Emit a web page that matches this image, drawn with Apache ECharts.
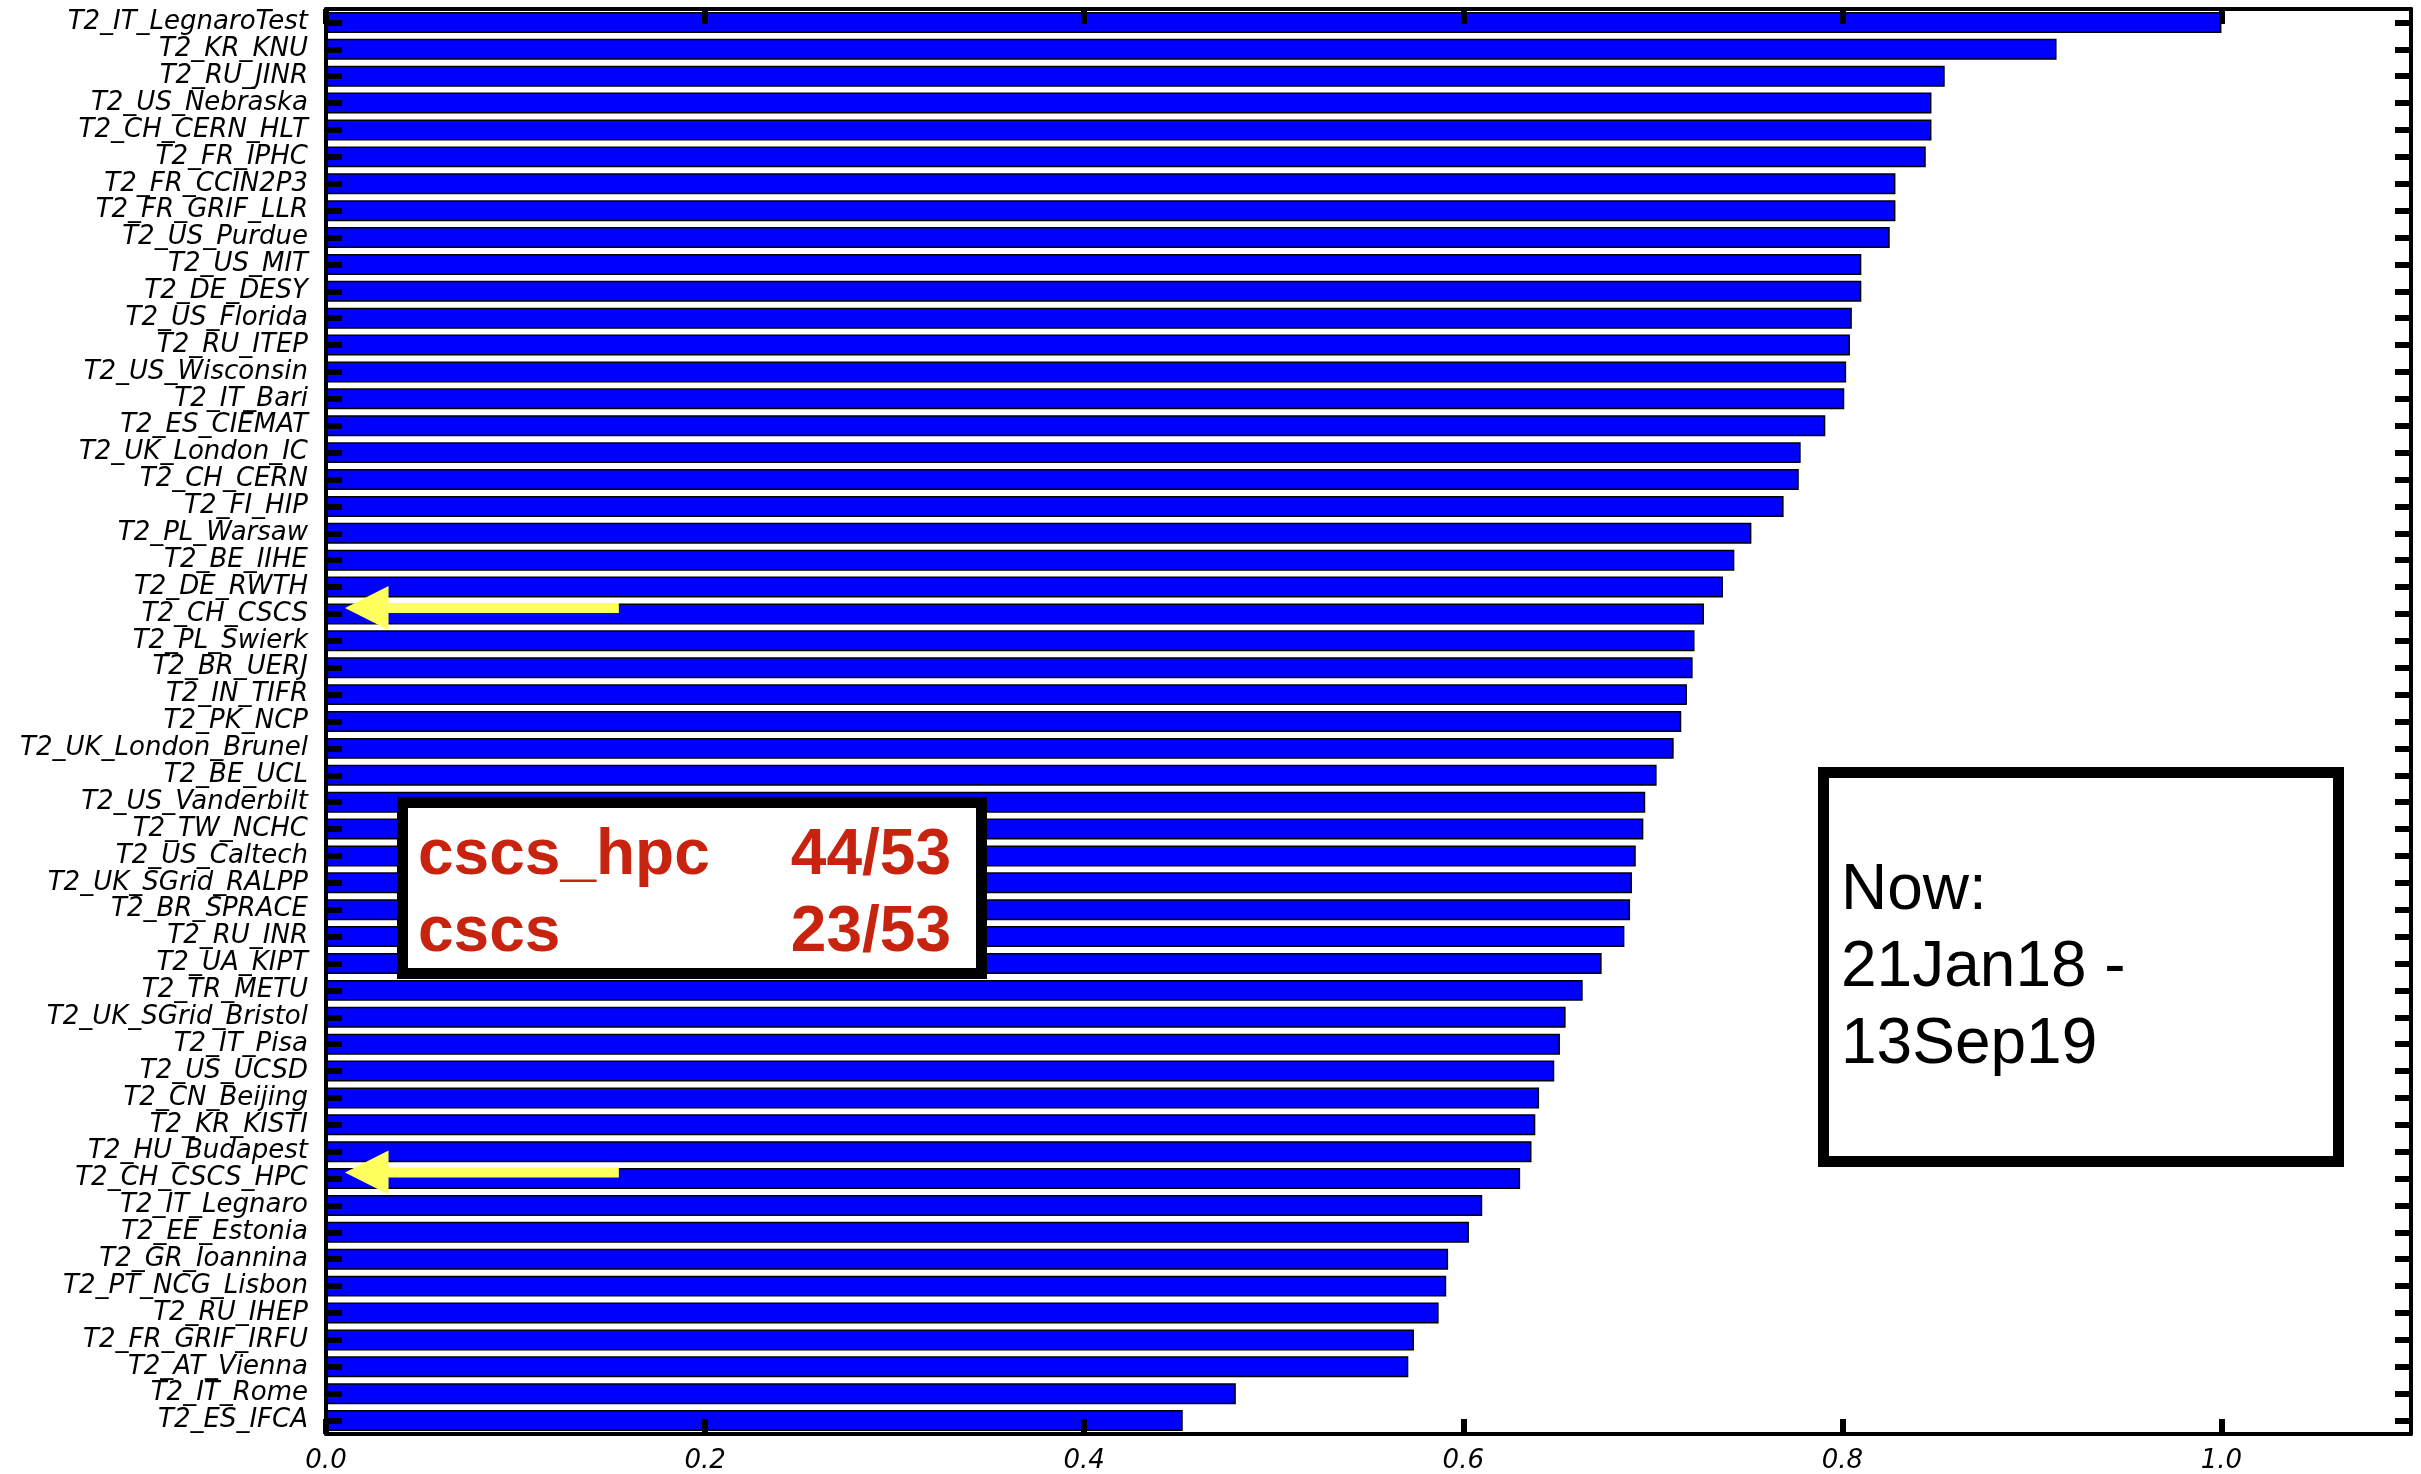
<!DOCTYPE html>
<html><head><meta charset="utf-8">
<script src="https://cdn.jsdelivr.net/npm/echarts@6/dist/echarts.min.js"></script>
<style>html,body{margin:0;padding:0;background:#fff}#c{width:2421px;height:1474px}</style>
</head><body><div id="c"></div>
<script>
const sites = ['T2_IT_LegnaroTest','T2_KR_KNU','T2_RU_JINR','T2_US_Nebraska','T2_CH_CERN_HLT','T2_FR_IPHC','T2_FR_CCIN2P3','T2_FR_GRIF_LLR','T2_US_Purdue','T2_US_MIT','T2_DE_DESY','T2_US_Florida','T2_RU_ITEP','T2_US_Wisconsin','T2_IT_Bari','T2_ES_CIEMAT','T2_UK_London_IC','T2_CH_CERN','T2_FI_HIP','T2_PL_Warsaw','T2_BE_IIHE','T2_DE_RWTH','T2_CH_CSCS','T2_PL_Swierk','T2_BR_UERJ','T2_IN_TIFR','T2_PK_NCP','T2_UK_London_Brunel','T2_BE_UCL','T2_US_Vanderbilt','T2_TW_NCHC','T2_US_Caltech','T2_UK_SGrid_RALPP','T2_BR_SPRACE','T2_RU_INR','T2_UA_KIPT','T2_TR_METU','T2_UK_SGrid_Bristol','T2_IT_Pisa','T2_US_UCSD','T2_CN_Beijing','T2_KR_KISTI','T2_HU_Budapest','T2_CH_CSCS_HPC','T2_IT_Legnaro','T2_EE_Estonia','T2_GR_Ioannina','T2_PT_NCG_Lisbon','T2_RU_IHEP','T2_FR_GRIF_IRFU','T2_AT_Vienna','T2_IT_Rome','T2_ES_IFCA'];
const values = [1.000,0.913,0.854,0.847,0.847,0.844,0.828,0.828,0.825,0.810,0.810,0.805,0.804,0.802,0.801,0.791,0.778,0.777,0.769,0.752,0.743,0.737,0.727,0.722,0.721,0.718,0.715,0.711,0.702,0.696,0.695,0.691,0.689,0.688,0.685,0.673,0.663,0.654,0.651,0.648,0.640,0.638,0.636,0.630,0.610,0.603,0.592,0.591,0.587,0.574,0.571,0.480,0.452];
const xTickValues = [0, 0.2, 0.4, 0.6, 0.8, 1.0];
const xTickLabels = ['0.0','0.2','0.4','0.6','0.8','1.0'];
const arrowSites = ['T2_CH_CSCS','T2_CH_CSCS_HPC'];
const scoreNames = ['cscs_hpc','cscs'];
const scoreRanks = ['44/53','23/53'];
const periodLines = ['Now:','21Jan18 -','13Sep19'];

const chart = echarts.init(document.getElementById('c'), null, {renderer:'canvas'});
const lblFont = {fontFamily:'DejaVu Sans', fontStyle:'italic', fontSize:26, color:'#000'};
const tickLine = {color:'#000', width:6};
const lineStyle = {show:true, onZero:false, lineStyle:{color:'#000', width:4}};

chart.setOption({
  animation:false,
  backgroundColor:'#fff',
  grid:{left:326, right:10, top:9, bottom:40, containLabel:false},
  xAxis:[
    {type:'value', position:'bottom', min:0, max:1.1, interval:0.2, z:10,
     axisLine:lineStyle,
     axisTick:{show:true, inside:true, length:15, lineStyle:tickLine, customValues:xTickValues},
     splitLine:{show:false},
     axisLabel:Object.assign({margin:14, customValues:xTickValues,
       formatter:v=>{const i=xTickValues.findIndex(t=>Math.abs(t-v)<1e-6); return i>=0?xTickLabels[i]:'';}}, lblFont)},
    {type:'value', position:'top', min:0, max:1.1, interval:0.2, z:10,
     axisLine:lineStyle,
     axisTick:{show:true, inside:true, length:15, lineStyle:tickLine, customValues:xTickValues},
     splitLine:{show:false}, axisLabel:{show:false}}
  ],
  yAxis:[
    {type:'category', data:sites, inverse:true, position:'left', z:10,
     axisLine:lineStyle,
     axisTick:{show:true, inside:true, length:16, alignWithLabel:true, lineStyle:tickLine},
     axisLabel:Object.assign({margin:18, interval:0}, lblFont)},
    {type:'category', data:sites, inverse:true, position:'right', z:10,
     axisLine:lineStyle,
     axisTick:{show:true, inside:true, length:16, alignWithLabel:true, lineStyle:tickLine},
     axisLabel:{show:false}}
  ],
  series:[{type:'bar', data:values, barWidth:'78%',
    itemStyle:{color:'#0000ff', borderColor:'#000', borderWidth:1.5}}]
});

const graphics = [];
arrowSites.forEach(s=>{
  const tip = chart.convertToPixel({xAxisIndex:0, yAxisIndex:0}, [0.01, s]);
  const back = chart.convertToPixel({xAxisIndex:0, yAxisIndex:0}, [0.033, s]);
  const end = chart.convertToPixel({xAxisIndex:0, yAxisIndex:0}, [0.1545, s]);
  const y = tip[1]-6;
  graphics.push({type:'polygon', z:100, shape:{points:[[tip[0],y],[back[0],y-22],[back[0],y-5],[end[0],y-5],[end[0],y+5],[back[0],y+5],[back[0],y+22]]}, style:{fill:'#ffff5e'}});
});
graphics.push({type:'rect', z:100, shape:{x:402.5, y:802.5, width:579, height:171}, style:{fill:'#fff', stroke:'#000', lineWidth:11}});
scoreNames.forEach((n,i)=>{
  const base = 878 + i*77;
  graphics.push({type:'text', z:101, x:418, y:base-22, style:{text:n, fill:'#c8230f', fontFamily:'Liberation Sans', fontWeight:'bold', fontSize:64, align:'left', verticalAlign:'middle'}});
  graphics.push({type:'text', z:101, x:951, y:base-22, style:{text:scoreRanks[i], fill:'#c8230f', fontFamily:'Liberation Sans', fontWeight:'bold', fontSize:64, align:'right', verticalAlign:'middle'}});
});
graphics.push({type:'rect', z:100, shape:{x:1823.5, y:772.5, width:515, height:389}, style:{fill:'#fff', stroke:'#000', lineWidth:11}});
periodLines.forEach((t,i)=>{
  const base = 913 + i*77;
  graphics.push({type:'text', z:101, x:1841, y:base-22, style:{text:t, fill:'#000', fontFamily:'Liberation Sans', fontWeight:'normal', fontSize:64, align:'left', verticalAlign:'middle'}});
});
chart.setOption({graphic:graphics});
</script></body></html>
